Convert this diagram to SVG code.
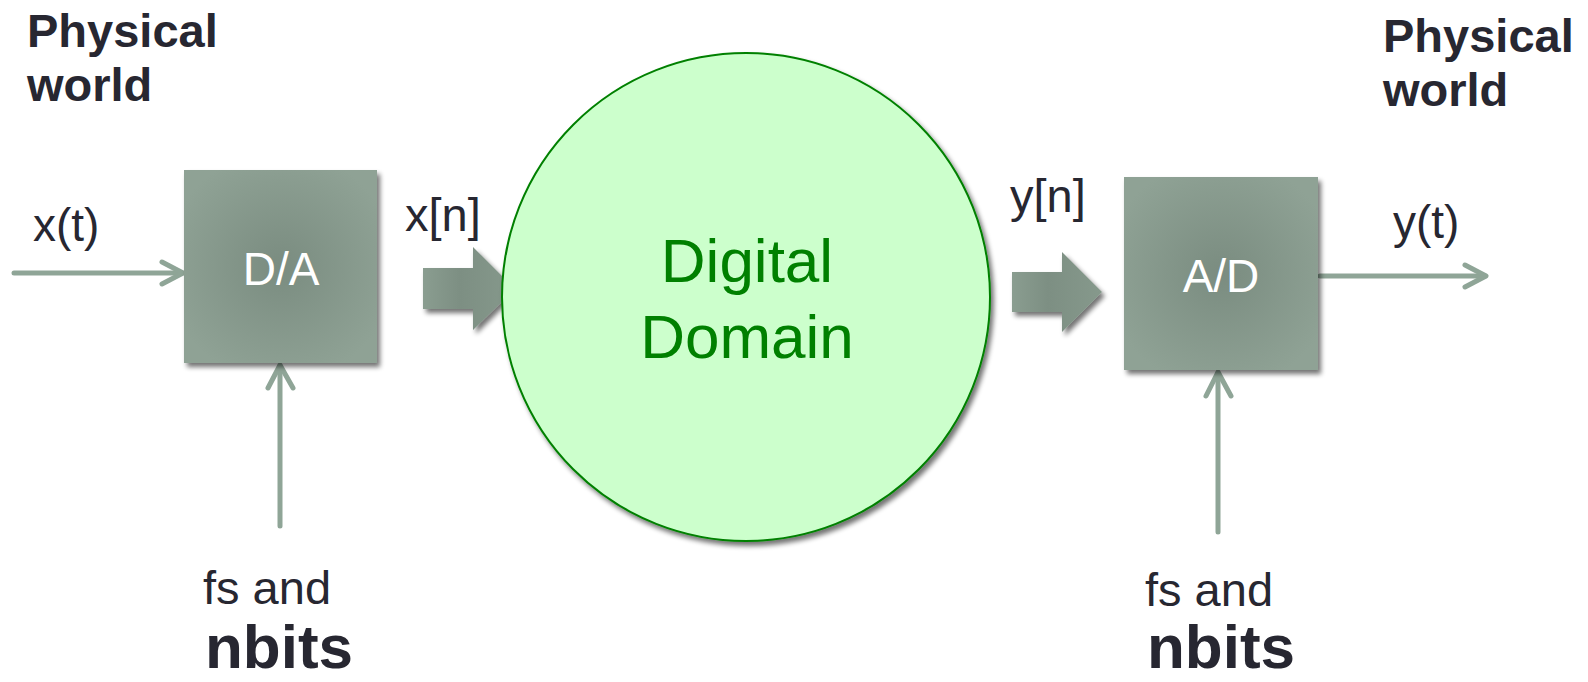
<svg xmlns="http://www.w3.org/2000/svg" width="1588" height="682" viewBox="0 0 1588 682">
  <style>
    .lbl { font-family: "Liberation Sans", Arial, sans-serif; fill: #272731; }
    .bold { font-weight: bold; }
    .box-text { font-family: "Liberation Sans", Arial, sans-serif; font-size: 46px; fill: #ffffff; text-anchor: middle; }
    .dom-text { font-family: "Liberation Sans", Arial, sans-serif; font-size: 62px; fill: #008000; text-anchor: middle; }
    .wire { stroke: #8fa597; stroke-width: 5; fill: none; stroke-linecap: round; stroke-linejoin: round; }
  </style>
  <defs>
    <radialGradient id="boxFill" cx="50%" cy="50%" r="60%">
      <stop offset="0" stop-color="#7a8c80"/>
      <stop offset="1" stop-color="#8fa295"/>
    </radialGradient>
    <linearGradient id="arrowFill" x1="0" y1="0" x2="1" y2="0">
      <stop offset="0" stop-color="#8a9d90"/>
      <stop offset="0.4" stop-color="#7d8f83"/>
      <stop offset="1" stop-color="#86998c"/>
    </linearGradient>
    <filter id="shadow" x="-10%" y="-10%" width="125%" height="125%">
      <feGaussianBlur in="SourceAlpha" stdDeviation="2.5"/>
      <feOffset dx="3" dy="4" result="b"/>
      <feComponentTransfer><feFuncA type="linear" slope="0.55"/></feComponentTransfer>
      <feMerge><feMergeNode/><feMergeNode in="SourceGraphic"/></feMerge>
    </filter>
  </defs>

  <!-- side labels -->
  <g id="physical-left">
    <text class="lbl bold" x="27" y="47" font-size="47">Physical</text>
    <text class="lbl bold" x="27" y="101" font-size="47">world</text>
  </g>
  <g id="physical-right">
    <text class="lbl bold" x="1383" y="52" font-size="47">Physical</text>
    <text class="lbl bold" x="1383" y="106" font-size="47">world</text>
  </g>

  <!-- connectors -->
  <g id="connectors">
    <path class="wire" d="M14 273 H182"/>
    <path class="wire" d="M162 262 L183 273 L162 284"/>
    <path class="wire" d="M280 526 V366"/>
    <path class="wire" d="M268 388 L280 365 L293 388"/>
    <path class="wire" d="M1320 276 H1485"/>
    <path class="wire" d="M1465 265 L1486 276 L1465 287"/>
    <path class="wire" d="M1218 532 V373"/>
    <path class="wire" d="M1206 396 L1218 372 L1231 396"/>
    <!-- block arrows -->
    <path filter="url(#shadow)" fill="url(#arrowFill)" d="M423 268 H473 V247 L515 289 L473 330 V309 H423 Z"/>
    <path filter="url(#shadow)" fill="url(#arrowFill)" d="M1012 272 H1062 V252 L1102 292 L1062 332 V312 H1012 Z"/>
  </g>

  <g id="label-xt"><text class="lbl" x="33" y="241" font-size="46">x(t)</text></g>
  <g id="label-xn"><text class="lbl" x="405" y="231" font-size="47">x[n]</text></g>
  <g id="label-yn"><text class="lbl" x="1010" y="212" font-size="47">y[n]</text></g>
  <g id="label-yt"><text class="lbl" x="1393" y="238" font-size="46">y(t)</text></g>

  <!-- D/A converter -->
  <g id="da-node">
    <rect x="184" y="170" width="193" height="193" fill="url(#boxFill)" filter="url(#shadow)"/>
    <text class="box-text" x="281" y="285">D/A</text>
  </g>

  <!-- digital domain -->
  <g id="digital-domain">
    <circle cx="746" cy="297" r="244" fill="#ccffcc" stroke="#008000" stroke-width="2" filter="url(#shadow)"/>
    <text class="dom-text" x="747" y="282">Digital</text>
    <text class="dom-text" x="747" y="358">Domain</text>
  </g>

  <!-- A/D converter -->
  <g id="ad-node">
    <rect x="1124" y="177" width="194" height="193" fill="url(#boxFill)" filter="url(#shadow)"/>
    <text class="box-text" x="1221" y="292">A/D</text>
  </g>

  <!-- sampling parameters -->
  <g id="params-left">
    <text class="lbl" x="203" y="604" font-size="47">fs and</text>
    <text class="lbl bold" x="205" y="668" font-size="62">nbits</text>
  </g>
  <g id="params-right">
    <text class="lbl" x="1145" y="606" font-size="47">fs and</text>
    <text class="lbl bold" x="1147" y="668" font-size="62">nbits</text>
  </g>
</svg>
